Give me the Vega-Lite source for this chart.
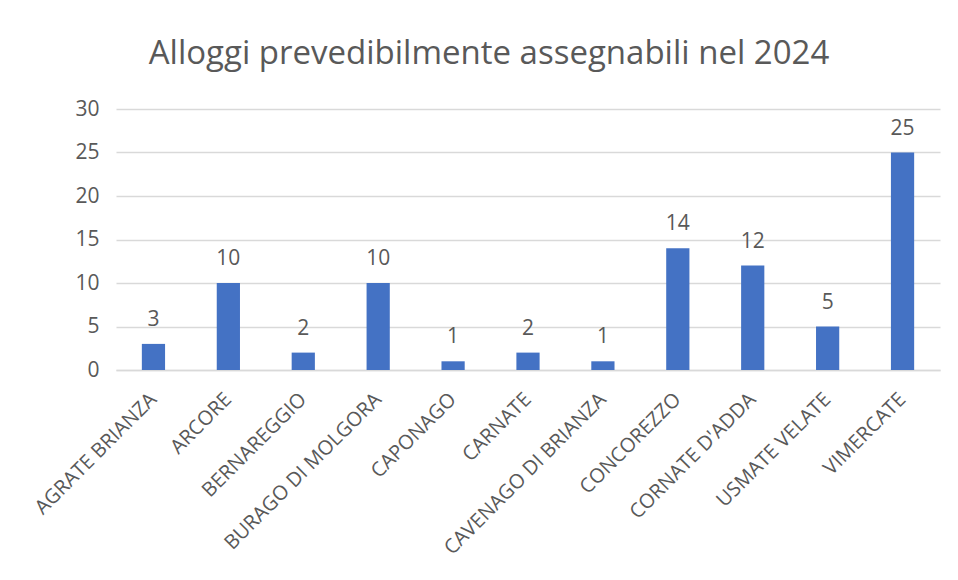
{
  "$schema": "https://vega.github.io/schema/vega-lite/v6.json",
  "autosize": {"type": "none"},
  "width": 824,
  "height": 261,
  "padding": {"left": 116, "top": 109, "right": 18, "bottom": 210},
  "background": "white",
  "config": {
    "view": {"stroke": null},
    "font": "Open Sans"
  },
  "title": {
    "text": "Alloggi prevedibilmente assegnabili nel 2024",
    "font": "Open Sans",
    "fontSize": 33,
    "fontWeight": "normal",
    "color": "#595959",
    "anchor": "middle",
    "dx": -39,
    "offset": 27
  },
  "data": {
    "values": [
      {"comune": "AGRATE BRIANZA", "alloggi": 3},
      {"comune": "ARCORE", "alloggi": 10},
      {"comune": "BERNAREGGIO", "alloggi": 2},
      {"comune": "BURAGO DI MOLGORA", "alloggi": 10},
      {"comune": "CAPONAGO", "alloggi": 1},
      {"comune": "CARNATE", "alloggi": 2},
      {"comune": "CAVENAGO DI BRIANZA", "alloggi": 1},
      {"comune": "CONCOREZZO", "alloggi": 14},
      {"comune": "CORNATE D'ADDA", "alloggi": 12},
      {"comune": "USMATE VELATE", "alloggi": 5},
      {"comune": "VIMERCATE", "alloggi": 25}
    ]
  },
  "encoding": {
    "x": {
      "field": "comune",
      "type": "nominal",
      "sort": null,
      "scale": {"paddingInner": 0.69, "paddingOuter": 0.345},
      "axis": {
        "title": null,
        "labelAngle": -45,
        "labelAlign": "right",
        "labelBaseline": "middle",
        "labelFontSize": 20,
        "labelLimit": 400,
        "labelColor": "#595959",
        "labelPadding": 26,
        "labelOverlap": false,
        "ticks": false,
        "domain": true,
        "domainColor": "#d9d9d9",
        "domainWidth": 1.5
      }
    },
    "y": {
      "field": "alloggi",
      "type": "quantitative",
      "scale": {"domain": [0, 30]},
      "axis": {
        "title": null,
        "values": [0, 5, 10, 15, 20, 25, 30],
        "labelFontSize": 21,
        "labelColor": "#595959",
        "labelPadding": 17,
        "ticks": false,
        "domain": false,
        "gridColor": "#d9d9d9",
        "gridWidth": 1.5
      }
    }
  },
  "layer": [
    {"mark": {"type": "bar", "color": "#4472C4"}},
    {
      "mark": {"type": "text", "dy": -24, "fontSize": 21, "color": "#595959"},
      "encoding": {"text": {"field": "alloggi", "type": "quantitative"}}
    }
  ]
}
